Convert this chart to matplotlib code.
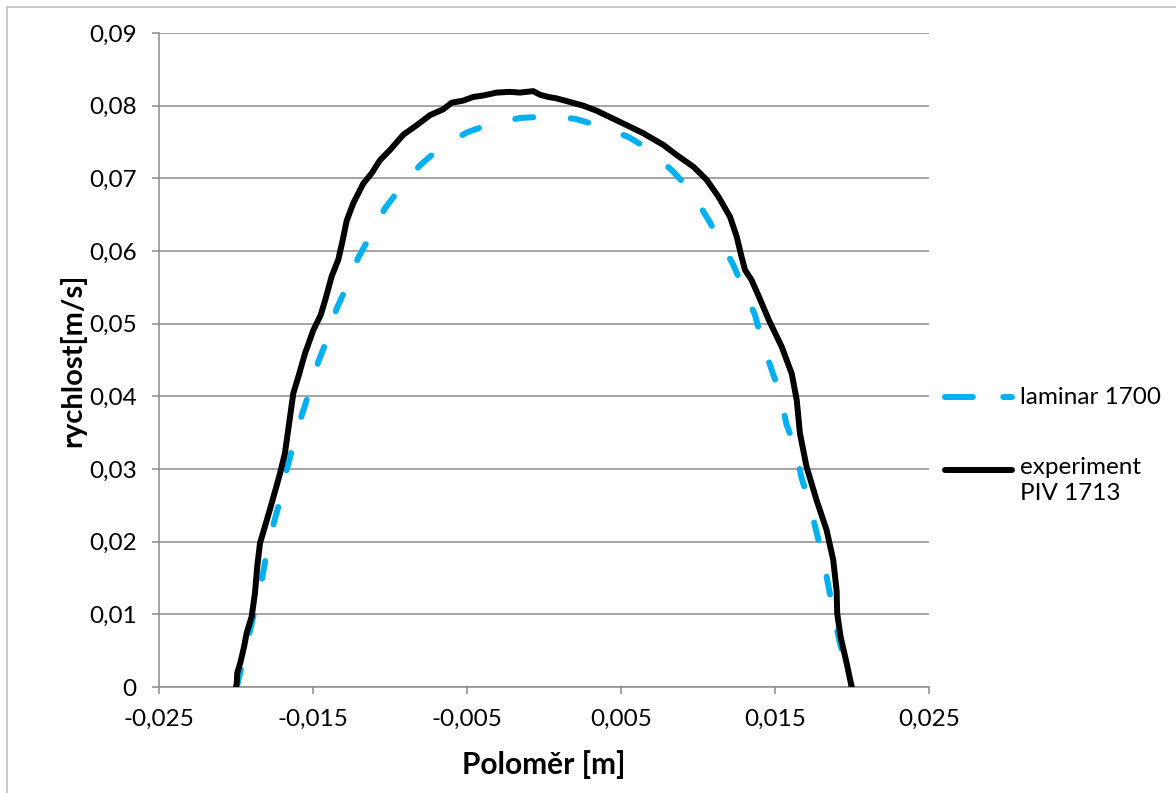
import matplotlib
matplotlib.use("Agg")
import matplotlib.pyplot as plt
from matplotlib.lines import Line2D
from matplotlib.patches import Rectangle
from matplotlib.ticker import FixedLocator

plt.rcParams['font.family'] = ['Lato', 'DejaVu Sans']
plt.rcParams['lines.scale_dashes'] = False

# Laminar solution, Re 1700
lam_x = [-0.01995, -0.0195, -0.0189, -0.01833, -0.01801, -0.01758, -0.01714, -0.01671,
         -0.01628, -0.01573, -0.01524, -0.01465, -0.01411, -0.01346, -0.01281, -0.01206,
         -0.0113, -0.01032, -0.00935, -0.00805, -0.0068, -0.00502, -0.00362, -0.00156,
         0.00006, 0.00201, 0.00364, 0.00548, 0.00688, 0.0084, 0.00948, 0.01056, 0.01132,
         0.01229, 0.01294, 0.0137, 0.01414, 0.01479, 0.01532, 0.01575, 0.0163, 0.01673,
         0.01723, 0.01766, 0.0181, 0.01846, 0.01878, 0.01922, 0.01965, 0.01998]
lam_y = [0.0, 0.0040, 0.0095, 0.0147, 0.0184, 0.0223, 0.0257, 0.0299,
         0.0333, 0.0374, 0.0406, 0.0448, 0.0477, 0.0521, 0.0551, 0.0591,
         0.0620, 0.0659, 0.0686, 0.0718, 0.0741, 0.0763, 0.0774, 0.0783,
         0.0785, 0.0782, 0.0772, 0.0757, 0.0739, 0.0709, 0.0684, 0.0647, 0.0619,
         0.0581, 0.0549, 0.0512, 0.0477, 0.0436, 0.0404, 0.0361, 0.0331, 0.0287,
         0.0255, 0.0216, 0.0179, 0.0140, 0.0104, 0.0060, 0.0028, 0.0]

# PIV measurement, Re 1713
exp_x = [-0.02000, -0.01995, -0.01992, -0.01970, -0.01948, -0.01931, -0.01898, -0.01877,
         -0.01862, -0.01844, -0.01812, -0.01768, -0.01714, -0.01682, -0.01649, -0.01628,
         -0.01595, -0.01552, -0.01498, -0.01450, -0.01420, -0.01379, -0.01336, -0.01307,
         -0.01281, -0.01238, -0.01173, -0.01119, -0.01065, -0.01000, -0.00914, -0.00827,
         -0.00740, -0.00654, -0.00600, -0.00524, -0.00459, -0.00394, -0.00307, -0.00221,
         -0.00156, -0.00070, -0.00026, 0.00028, 0.00082, 0.00169, 0.00255, 0.00342,
         0.00450, 0.00558, 0.00645, 0.00775, 0.00862, 0.00970, 0.01056, 0.01132,
         0.01208, 0.01251, 0.01277, 0.01305, 0.01348, 0.01400, 0.01460, 0.01544,
         0.01609, 0.01641, 0.01662, 0.01705, 0.01770, 0.01835, 0.01878, 0.01900,
         0.01904, 0.01926, 0.01965, 0.01998]
exp_y = [0.0, 0.0005, 0.0019, 0.0035, 0.0055, 0.0074, 0.0097, 0.0129,
         0.0166, 0.0198, 0.0221, 0.0253, 0.0294, 0.0322, 0.0372, 0.0404,
         0.0427, 0.0459, 0.0491, 0.0512, 0.0533, 0.0565, 0.0588, 0.0615,
         0.0642, 0.0666, 0.0693, 0.0707, 0.0725, 0.0739, 0.0760, 0.0773,
         0.0787, 0.0795, 0.0804, 0.0807, 0.0812, 0.0814, 0.0818, 0.0819,
         0.0818, 0.0820, 0.0815, 0.0812, 0.0810, 0.0805, 0.0800, 0.0793,
         0.0782, 0.0771, 0.0762, 0.0746, 0.0732, 0.0716, 0.0698, 0.0675,
         0.0647, 0.0620, 0.0597, 0.0574, 0.0560, 0.0535, 0.0505, 0.0468,
         0.0431, 0.0395, 0.0349, 0.0303, 0.0257, 0.0216, 0.0175, 0.0133,
         0.0101, 0.0069, 0.0033, 0.0]

x_ticks = [-0.025, -0.015, -0.005, 0.005, 0.015, 0.025]
x_tick_labels = ["-0,025", "-0,015", "-0,005", "0,005", "0,015", "0,025"]
y_ticks = [0.0, 0.01, 0.02, 0.03, 0.04, 0.05, 0.06, 0.07, 0.08, 0.09]
y_tick_labels = ["0", "0,01", "0,02", "0,03", "0,04", "0,05", "0,06", "0,07", "0,08", "0,09"]

series_labels = ["laminar 1700", "experiment\nPIV 1713"]
x_label = "Poloměr [m]"
y_label = "rychlost[m/s]"

W, H = 1176, 793
fig = plt.figure(figsize=(W / 100, H / 100), dpi=100)
fig.patch.set_facecolor("white")

# chart-area frame
fig.add_artist(Rectangle((7 / W, -0.1), 1.2, 1 - 7 / H + 0.1, transform=fig.transFigure,
                         fill=False, edgecolor="#bfbfbf", linewidth=1.2))

ax = fig.add_axes([159 / W, 1 - 687 / H, (929 - 159) / W, (687 - 33) / H])

grid_c = "#8c8c8c"
ax.set_xlim(-0.025, 0.025)
ax.set_ylim(0, 0.09)
ax.xaxis.set_major_locator(FixedLocator(x_ticks))
ax.yaxis.set_major_locator(FixedLocator(y_ticks))
ax.set_xticklabels(x_tick_labels)
ax.set_yticklabels(y_tick_labels)

ax.grid(axis="y", color=grid_c, linewidth=1.1)
ax.grid(axis="x", visible=False)
for side in ("top", "right"):
    ax.spines[side].set_visible(False)
for side in ("left", "bottom"):
    ax.spines[side].set_color(grid_c)
    ax.spines[side].set_linewidth(1.1)
ax.tick_params(axis="both", colors=grid_c, labelcolor="black", labelsize=17.5,
               length=5, width=1.1, direction="out")
ax.tick_params(axis="y", pad=11)
ax.tick_params(axis="x", pad=11)
ax.set_axisbelow(True)

lw = 4.3
ax.plot(lam_x, lam_y, color="#00b0f0", linewidth=lw, dashes=(13, 27),
        dash_capstyle="round", solid_capstyle="round", zorder=3)
ax.plot(exp_x, exp_y, color="black", linewidth=lw, solid_capstyle="round",
        solid_joinstyle="round", zorder=4)

ax.set_xlabel(x_label, fontsize=21.5, fontweight="bold", labelpad=14)
ax.set_ylabel(y_label, fontsize=21, fontweight="bold", labelpad=2)

# legend drawn in figure pixels
def px(x, y):
    return x / W, 1 - y / H

l1 = Line2D([px(945, 0)[0], px(1012, 0)[0]], [px(0, 397)[1]] * 2, transform=fig.transFigure,
            color="#00b0f0", linewidth=lw, dashes=(20, 22), dash_capstyle="round")
l2 = Line2D([px(945, 0)[0], px(1012, 0)[0]], [px(0, 470)[1]] * 2, transform=fig.transFigure,
            color="black", linewidth=lw, solid_capstyle="round")
fig.add_artist(l1)
fig.add_artist(l2)
fig.text(*px(1020, 397), series_labels[0], fontsize=17.5, va="center", ha="left")
fig.text(*px(1020, 457), series_labels[1], fontsize=17.5, va="top", ha="left",
         linespacing=1.3)

fig.savefig("out.png", dpi=100, facecolor="white")
